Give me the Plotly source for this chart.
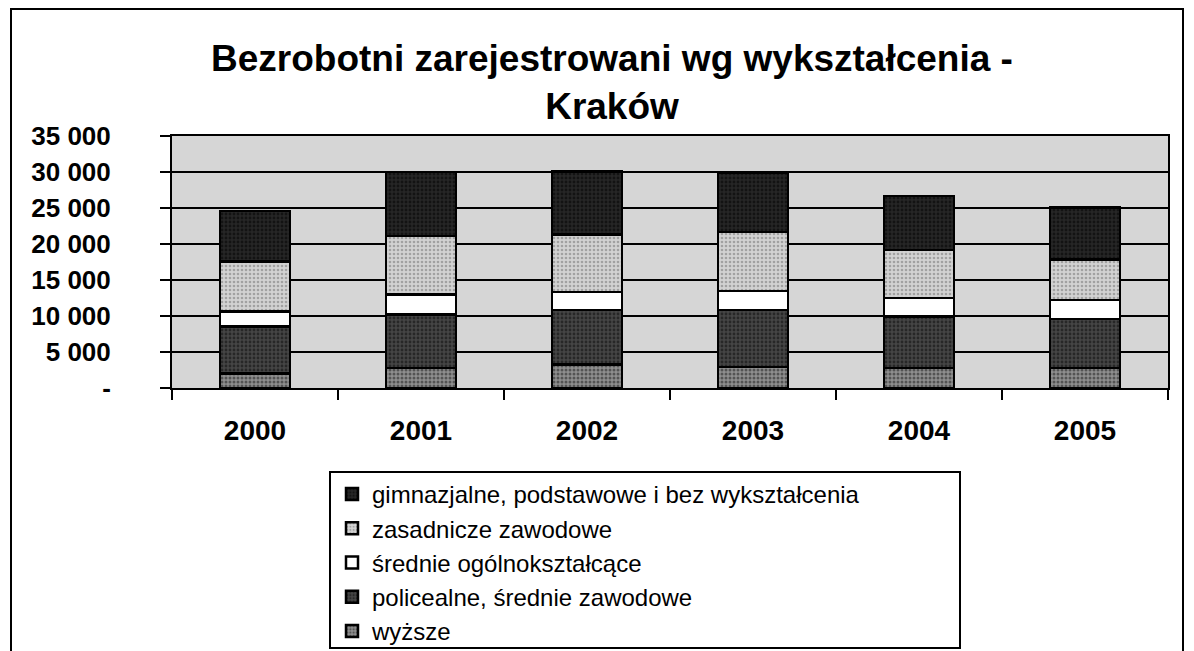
import plotly.graph_objects as go

years = ["2000", "2001", "2002", "2003", "2004", "2005"]
wyzsze = [2000, 2800, 3250, 2950, 2800, 2800]
policealne = [6570, 7400, 7550, 7900, 7100, 6800]
srednie_ogol = [2080, 2770, 2500, 2600, 2600, 2650]
zasadnicze = [6950, 8130, 8000, 8200, 6650, 5600]
gimnazjalne = [7000, 8900, 8800, 8200, 7550, 7250]

series = [
    ("wyższe", wyzsze, "#656565", dict(shape=".", fgcolor="#1a1a1a", bgcolor="#8f8f8f", size=4, solidity=0.45)),
    ("policealne, średnie zawodowe", policealne, "#2a2a2a", dict(shape=".", fgcolor="#0a0a0a", bgcolor="#454545", size=4, solidity=0.4)),
    ("średnie ogólnokształcące", srednie_ogol, "#ffffff", None),
    ("zasadnicze zawodowe", zasadnicze, "#bdbdbd", dict(shape=".", fgcolor="#707070", bgcolor="#d2d2d2", size=4, solidity=0.35)),
    ("gimnazjalne, podstawowe i bez wykształcenia", gimnazjalne, "#141414", dict(shape=".", fgcolor="#000000", bgcolor="#262626", size=4, solidity=0.4)),
]

yticks = [0, 5000, 10000, 15000, 20000, 25000, 30000, 35000]
yticktext = ["-", "5 000", "10 000", "15 000", "20 000", "25 000", "30 000", "35 000"]

FONT = "Liberation Sans, Arial, sans-serif"

fig = go.Figure()
for name, vals, color, pat in series:
    marker = dict(color=color, line=dict(color="black", width=2.5))
    if pat:
        marker["pattern"] = pat
    fig.add_trace(go.Bar(x=years, y=vals, name=name, marker=marker, width=0.42))

W, H = 1194, 651
OFF = 8  # page body margin
L = 172 - OFF
T = 136 - OFF
B = H - (388 - OFF)
R = W - (1168 - OFF)
pw = W - L - R
ph = H - T - B

def px_x(x):
    return (x - OFF - L) / pw

def px_y(y):
    return (H - B - (y - OFF)) / ph

fig.update_layout(
    width=W, height=H,
    margin=dict(l=L, r=R, t=T, b=B, autoexpand=False),
    barmode="stack",
    bargap=0.58,
    paper_bgcolor="white",
    plot_bgcolor="#d6d6d6",
    font=dict(family=FONT, color="black"),
    title=dict(
        text="Bezrobotni zarejestrowani wg wykształcenia -<br>Kraków",
        font=dict(family=FONT, size=37, weight="bold", color="black"),
        x=px_x(612), xref="paper", xanchor="center",
        y=1 - 63 / H, yref="container", yanchor="top",
    ),
    legend=dict(
        traceorder="reversed",
        x=px_x(332), y=px_y(472), xanchor="left", yanchor="top",
        borderwidth=0,
        bgcolor="rgba(0,0,0,0)",
        font=dict(family=FONT, size=24, color="black"),
        itemwidth=30,
        tracegroupgap=0,
    ),
    showlegend=True,
)

fig.update_xaxes(
    type="category",
    showline=True, linecolor="black", linewidth=2, mirror=True,
    ticks="outside", tickson="boundaries", ticklen=10, tickcolor="black", tickwidth=2,
    tickfont=dict(family=FONT, size=28, weight="bold"),
    ticklabelstandoff=16,
    showgrid=False,
)
fig.update_yaxes(
    range=[0, 35000],
    tickvals=yticks, ticktext=yticktext,
    showline=True, linecolor="black", linewidth=2, mirror=True,
    ticks="outside", ticklen=10, tickcolor="black", tickwidth=2,
    tickfont=dict(family=FONT, size=26, weight="bold"),
    ticklabelstandoff=44,
    showgrid=True, gridcolor="black", gridwidth=2,
    zeroline=False,
)

# outer chart frame
fig.add_shape(
    type="rect", xref="paper", yref="paper",
    x0=px_x(11), x1=px_x(1183), y0=px_y(720), y1=px_y(9),
    line=dict(color="black", width=2), fillcolor="rgba(0,0,0,0)", layer="below",
)
# legend frame
fig.add_shape(
    type="rect", xref="paper", yref="paper",
    x0=px_x(330), x1=px_x(960), y0=px_y(648), y1=px_y(472),
    line=dict(color="black", width=2), fillcolor="white", layer="below",
)

fig.write_html("out.html")
